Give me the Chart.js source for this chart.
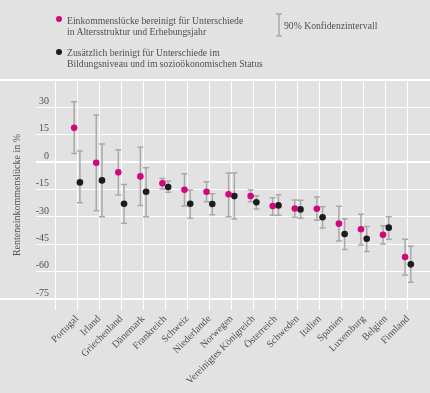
<!DOCTYPE html>
<html>
<head>
<meta charset="utf-8">
<script src="https://cdn.jsdelivr.net/npm/chart.js@4"></script>
<style>
  body { margin: 0; background: #e2e2e2; }
  #wrap { position: relative; width: 430px; height: 393px; font-family: "Liberation Serif", serif; color: #505050; }
  .leg { position: absolute; font-size: 9.7px; line-height: 11px; white-space: nowrap; }
  .dot { position: absolute; width: 6px; height: 6px; border-radius: 50%; }
</style>
</head>
<body>
<div id="wrap">
  <canvas id="chart" width="430" height="393"></canvas>
  <div class="dot" style="left:56px;top:16px;background:#d1087c"></div>
  <div class="leg" style="left:67px;top:15px">Einkommenslücke bereinigt für Unterschiede<br>in Altersstruktur und Erhebungsjahr</div>
  <div class="dot" style="left:56px;top:49px;background:#1c1c1c"></div>
  <div class="leg" style="left:67px;top:47px">Zusätzlich berinigt für Unterschiede im<br>Bildungsniveau und im sozioökonomischen Status</div>
  <div class="leg" style="left:284px;top:20px">90% Konfidenzintervall</div>
  <canvas id="ci" width="10" height="26" style="position:absolute;left:274px;top:12px"></canvas>
</div>
<script>
// countries, left to right
const countries = ["Portugal", "Irland", "Griechenland", "Dänemark", "Frankreich", "Schweiz", "Niederlande", "Norwegen",
  "Vereinigtes Königreich", "Österreich", "Schweden", "Italien", "Spanien", "Luxemburg", "Belgien", "Finnland"];

// adjusted for age structure and survey year (pink)
const gapAge = [18.8, -0.3, -5.6, -7.8, -11.6, -15.1, -16.2, -17.6, -18.6, -24.0, -25.4, -25.5, -33.7, -36.8, -39.8, -52.0];
const gapAgeLow = [4.8, -26.6, -18.0, -23.7, -14.7, -24.0, -21.7, -29.9, -21.7, -29.1, -30.2, -31.9, -43.2, -45.4, -44.9, -61.8];
const gapAgeHigh = [33.1, 25.8, 6.8, 8.1, -8.9, -6.4, -10.7, -6.0, -15.3, -19.5, -20.8, -19.1, -24.2, -28.6, -34.8, -42.3];

// additionally adjusted for education and socio-economic status (black)
const gapEdu = [-11.1, -10.0, -22.8, -16.2, -13.6, -22.8, -22.9, -18.6, -22.0, -23.7, -25.9, -30.2, -39.4, -42.0, -35.9, -56.0];
const gapEduLow = [-22.2, -29.9, -33.5, -29.9, -16.5, -30.8, -28.8, -31.2, -25.7, -29.1, -30.8, -36.1, -47.8, -48.9, -42.3, -65.8];
const gapEduHigh = [6.1, 9.9, -12.2, -3.1, -10.5, -15.3, -17.3, -6.0, -18.4, -17.9, -20.9, -24.4, -31.0, -35.2, -29.9, -46.1];

const yTicks = [45, 30, 15, 0, -15, -30, -45, -60, -75];

const PINK = "#d1087c";
const BLACK = "#1c1c1c";
const GREY = "#a9a9a9";
const TEXT = "#505050";
const FONT = "Liberation Serif";
const DODGE = 0.13;

const toPoints = (vals, lows, highs, shift) =>
  vals.map((v, i) => ({ x: i + shift, y: v, lo: lows[i], hi: highs[i] }));

// error bars drawn under the points
const errorBars = {
  id: "errorBars",
  beforeDatasetsDraw(chart) {
    const { ctx, scales: { x, y } } = chart;
    ctx.save();
    ctx.strokeStyle = GREY;
    ctx.lineWidth = 1.5;
    chart.data.datasets.forEach(ds => {
      ds.data.forEach(p => {
        const px = x.getPixelForValue(p.x);
        const top = y.getPixelForValue(p.hi);
        const bot = y.getPixelForValue(p.lo);
        ctx.beginPath();
        ctx.moveTo(px, top); ctx.lineTo(px, bot);
        ctx.moveTo(px - 3, top); ctx.lineTo(px + 3, top);
        ctx.moveTo(px - 3, bot); ctx.lineTo(px + 3, bot);
        ctx.stroke();
      });
    });
    ctx.restore();
  }
};

// full-width white rules at the top and at -75
const frameLines = {
  id: "frameLines",
  beforeDatasetsDraw(chart) {
    const { ctx, width, scales: { y } } = chart;
    ctx.save();
    ctx.strokeStyle = "#ffffff";
    ctx.lineWidth = 2;
    [45, -75].forEach(v => {
      const py = Math.round(y.getPixelForValue(v));
      ctx.beginPath();
      ctx.moveTo(0, py); ctx.lineTo(width, py);
      ctx.stroke();
    });
    ctx.restore();
  }
};

new Chart(document.getElementById("chart"), {
  type: "scatter",
  data: {
    datasets: [
      { data: toPoints(gapAge, gapAgeLow, gapAgeHigh, -DODGE), backgroundColor: PINK, borderWidth: 0, pointRadius: 3.3 },
      { data: toPoints(gapEdu, gapEduLow, gapEduHigh, DODGE), backgroundColor: BLACK, borderWidth: 0, pointRadius: 3.3 }
    ]
  },
  options: {
    responsive: false,
    animation: false,
    layout: { autoPadding: false, padding: { top: 80, right: 0, left: 0, bottom: 0 } },
    plugins: { legend: { display: false }, tooltip: { enabled: false } },
    scales: {
      x: {
        type: "linear",
        min: -1,
        max: 16,
        border: { display: false },
        grid: { color: "#ffffff", lineWidth: 1, drawTicks: false },
        ticks: {
          stepSize: 1,
          autoSkip: false,
          maxRotation: 45,
          minRotation: 45,
          padding: 3,
          color: TEXT,
          font: { family: FONT, size: 10 },
          callback: v => countries[v] ?? ""
        },
        afterFit: s => { s.height = 83; s.paddingLeft = 0; s.paddingRight = 0; }
      },
      y: {
        min: -81,
        max: 45,
        border: { display: false },
        grid: {
          color: "#ffffff",
          lineWidth: c => (c.tick && c.tick.value === 0 ? 2 : 1),
          tickLength: 19
        },
        ticks: {
          stepSize: 15,
          includeBounds: false,
          padding: -13,
          labelOffset: -6,
          color: TEXT,
          font: { family: FONT, size: 10 },
          callback: v => (yTicks.includes(v) && v !== 45 ? v : "")
        },
        title: {
          display: true,
          text: "Renteneinkommenslücke in %",
          color: TEXT,
          font: { family: FONT, size: 10 },
          padding: { top: 11, bottom: 0 }
        },
        afterFit: s => { s.width = 55; }
      }
    }
  },
  plugins: [frameLines, errorBars]
});

// legend symbol for the confidence interval
const ci = document.getElementById("ci").getContext("2d");
ci.strokeStyle = GREY;
ci.lineWidth = 1.5;
ci.beginPath();
ci.moveTo(5, 2); ci.lineTo(5, 24);
ci.moveTo(2, 2); ci.lineTo(8, 2);
ci.moveTo(2, 24); ci.lineTo(8, 24);
ci.stroke();
</script>
</body>
</html>
